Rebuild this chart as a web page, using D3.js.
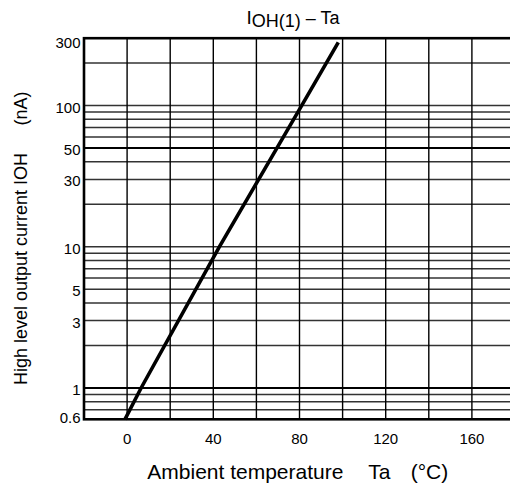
<!DOCTYPE html>
<html>
<head>
<meta charset="utf-8">
<script src="https://cdn.jsdelivr.net/npm/d3@7"></script>
<style>
  html, body { margin: 0; padding: 0; background: #fff; }
  svg { display: block; }
  text { font-family: "Liberation Sans", Arial, Helvetica, sans-serif; fill: #000; }
</style>
</head>
<body>
<svg id="chart" width="510" height="488"></svg>
<script>
// Ambient temperature (°C) and high level output current (nA)
const tempC = [-1, 6.5, 42.8, 81, 98];
const currentNA = [0.6, 1, 10, 100, 280];

// Axis ticks
const xTicks = [0, 40, 80, 120, 160];
const xGrid = [0, 20, 40, 60, 80, 100, 120, 140, 160];
const yTickLabels = [0.6, 1, 3, 5, 10, 30, 50, 100, 300];
const yGrid = [0.7, 0.8, 0.9, 1, 2, 3, 4, 5, 6, 7, 8, 9, 10, 20, 30, 40, 50, 60, 70, 80, 90, 100, 200];
const yStrong = [1, 50];

const svg = d3.select("#chart");

const x = d3.scaleLinear().domain([-20, 180]).range([84, 515]);
const y = d3.scaleLog().domain([0.6, 300]).range([419.3, 38.2]);

const plotTop = y(300), plotBottom = y(0.6), plotLeft = x(-20), plotRight = x(180);

// horizontal grid
svg.append("g").selectAll("line").data(yGrid).join("line")
  .attr("x1", plotLeft).attr("x2", plotRight)
  .attr("y1", d => y(d)).attr("y2", d => y(d))
  .attr("stroke", d => yStrong.includes(d) ? "#000" : "#333")
  .attr("stroke-width", d => yStrong.includes(d) ? 2 : 1.5);

// vertical grid
svg.append("g").selectAll("line").data(xGrid).join("line")
  .attr("x1", d => x(d)).attr("x2", d => x(d))
  .attr("y1", plotTop).attr("y2", plotBottom)
  .attr("stroke", "#000").attr("stroke-width", 1.4);

// frame
svg.append("rect")
  .attr("x", plotLeft).attr("y", plotTop)
  .attr("width", plotRight - plotLeft).attr("height", plotBottom - plotTop)
  .attr("fill", "none").attr("stroke", "#000").attr("stroke-width", 2.6);

// curve
const pts = tempC.map((t, i) => [t, currentNA[i]]);
svg.append("path")
  .datum(pts)
  .attr("d", d3.line().x(d => x(d[0])).y(d => y(d[1])))
  .attr("fill", "none").attr("stroke", "#000").attr("stroke-width", 3.6);

// y tick labels (kept inside the frame's vertical extent)
svg.append("g").selectAll("text").data(yTickLabels).join("text")
  .attr("x", 80.5)
  .attr("y", d => Math.min(Math.max(y(d) + 7, plotTop + 10), plotBottom + 3.5))
  .attr("text-anchor", "end")
  .style("font-size", "15px")
  .text(d => d);

// x tick labels
svg.append("g").selectAll("text").data(xTicks).join("text")
  .attr("x", d => x(d)).attr("y", 443.5)
  .attr("text-anchor", "middle")
  .style("font-size", "15px")
  .text(d => d);

// title
const title = svg.append("text").attr("x", 246.5).attr("y", 24);
title.append("tspan").style("font-size", "19px").text("I");
title.append("tspan").style("font-size", "18px").attr("dy", 3).text("OH(1)");
title.append("tspan").style("font-size", "18px").attr("dy", -3).text(" \u2013 Ta");

// x axis title
const xt = svg.append("g").style("font-size", "21px");
xt.append("text").attr("x", 147.3).attr("y", 479).text("Ambient temperature");
xt.append("text").attr("x", 368.3).attr("y", 479).text("Ta");
xt.append("text").attr("x", 410.7).attr("y", 479).text("(\u00B0C)");

// y axis title
const yt = svg.append("g").style("font-size", "18px");
yt.append("text").attr("transform", "translate(26.5,385) rotate(-90)")
  .text("High level output current IOH");
yt.append("text").attr("transform", "translate(26.5,125.5) rotate(-90)")
  .text("(nA)");
</script>
</body>
</html>
